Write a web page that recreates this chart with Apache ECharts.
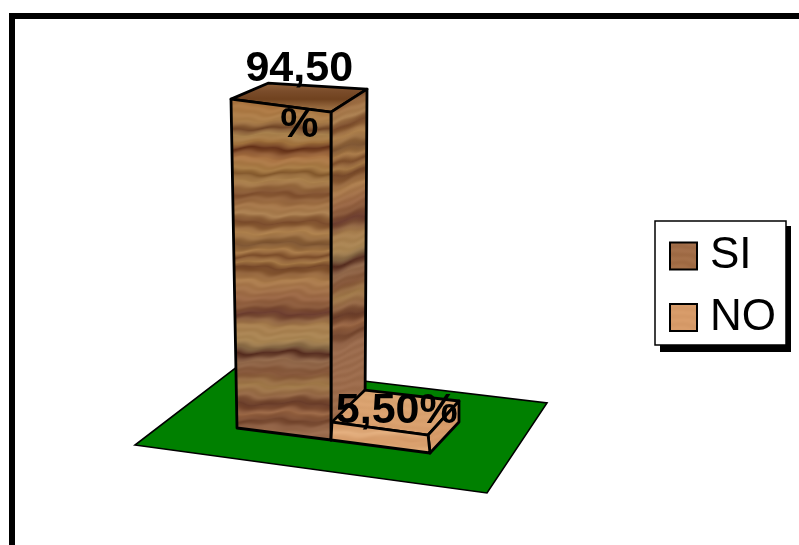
<!DOCTYPE html>
<html>
<head>
<meta charset="utf-8">
<script src="https://cdn.jsdelivr.net/npm/echarts@6/dist/echarts.min.js"></script>
<style>html,body{margin:0;padding:0;background:#fff}#c{width:799px;height:545px}</style>
</head>
<body>
<div id="c"></div>
<script>
const categories = ['SI', 'NO'];
const valuesSI = [94.5];
const valuesNO = [5.5];
const barLabels = ['94,50\n%', '5,50%'];

const woodStopsDark = [[0,'#a06c48'],[99,'#a9713d'],[110,'#ad7a45'],[120,'#ac7f4b'],[128,'#74492a'],[134,'#ab8450'],[142,'#a37440'],[148,'#67341b'],[158,'#ae7848'],[168,'#a67a44'],[173,'#875c30'],[180,'#ae8450'],[193,'#80502f'],[205,'#a47548'],[214,'#aa7f50'],[222,'#774828'],[232,'#b18450'],[243,'#7c5330'],[250,'#a87a48'],[256,'#80512e'],[262,'#a77a48'],[267,'#724425'],[280,'#ad7e4e'],[297,'#9a6745'],[306,'#875739'],[313,'#693a2c'],[325,'#a87f4f'],[340,'#aa8654'],[347,'#846644'],[352,'#562d20'],[360,'#946b4d'],[373,'#835437'],[385,'#a27b4b'],[395,'#946745'],[403,'#653825'],[412,'#9a6745'],[420,'#73452d'],[430,'#9a6b4d'],[545,'#a06c48']];
const woodStopsLight = [[0,'#d69a68'],[300,'#d99f6d'],[308,'#e2ad7c'],[314,'#c98f5e'],[320,'#dba672'],[326,'#cf9563'],[332,'#dca874'],[390,'#d89e6c'],[398,'#e4b284'],[406,'#d79c69'],[414,'#e6b88a'],[424,'#d29663'],[432,'#e2ae7e'],[440,'#d59a68'],[448,'#dfa875'],[545,'#d69a68']];

function hex(c){return [1,3,5].map(i=>parseInt(c.substr(i,2),16));}
function makeWood(stops, amp){
  const w=140,h=545,cv=document.createElement('canvas');cv.width=w;cv.height=h;
  const g=cv.getContext('2d'),img=g.createImageData(w,h),d=img.data;
  const rgb=stops.map(s=>[s[0],hex(s[1])]);
  for(let y=0;y<h;y++)for(let x=0;x<w;x++){
    const yy=Math.max(0,Math.min(h-1,y+amp*(1.6*Math.sin(x*Math.PI*2/140*2+y*.11)+.8*Math.sin(x*Math.PI*2/140*5+y*.23))));
    let k=0;while(k<rgb.length-2&&rgb[k+1][0]<=yy)k++;
    const t=(yy-rgb[k][0])/(rgb[k+1][0]-rgb[k][0]);
    const fine=amp*4*Math.sin(yy*.83+Math.sin(x*Math.PI*2/140*3)*.8);
    for(let c=0;c<3;c++)d[(y*w+x)*4+c]=rgb[k][1][c]+(rgb[k+1][1][c]-rgb[k][1][c])*t+fine;
    d[(y*w+x)*4+3]=255;
  }
  g.putImageData(img,0,0);return cv;
}
const woodDark=makeWood(woodStopsDark,1),woodLight=makeWood(woodStopsLight,.6);
const pat=(img,o)=>Object.assign({image:img,repeat:'repeat'},o||{});
const topDark={type:'linear',x:0,y:0,x2:0,y2:1,colorStops:[{offset:0,color:'#94653c'},{offset:.3,color:'#7a4c2a'},{offset:.55,color:'#70421f'},{offset:.8,color:'#94673c'},{offset:1,color:'#a8784a'}]};
const fills=[{front:pat(woodDark),side:pat(woodDark,{rotation:-0.3}),top:topDark},
             {front:pat(woodLight),side:pat(woodLight,{rotation:-0.3}),top:pat(woodLight,{rotation:.1})}];

// corner layout per bar, relative to the category's zero point on the axis: [dx, dy, lean, rise]
const corners=[
 {fl:[-48.25,-12,-.0183,1.003],fr:[45.75,0,0,1],br:[79.75,-32,.0061,.9726],bl:[-14.25,-44,-.0091,.954]},
 {fl:[-50.75,0,.05,.94],fr:[48.25,13,-.1,.94],br:[77.25,-18,0,1.1],bl:[-16.75,-32,0,.94]}
];
const labelOffset=[[14,-399,'center'],[15,-57,'center']];
const floorOffsets=[[-150.25,5],[201.75,53],[261.75,-37],[-47.25,-74]];
const edge={stroke:'#000',lineWidth:2.8,lineJoin:'round'};

function renderBar(params,api){
  const i=api.value(0),v=api.value(1),b=api.coord([i,0]),t=api.coord([i,v]),h=b[1]-t[1],c=corners[i];
  const low=k=>[b[0]+c[k][0],b[1]+c[k][1]];
  const up=k=>[b[0]+c[k][0]+c[k][2]*h,b[1]+c[k][1]-c[k][3]*h];
  const poly=(pts,fill)=>({type:'polygon',shape:{points:pts},style:Object.assign({fill:fill},edge)});
  return {type:'group',children:[
    poly([up('fl'),up('fr'),up('br'),up('bl')],fills[i].top),
    poly([low('fr'),low('br'),up('br'),up('fr')],fills[i].side),
    poly([low('fl'),low('fr'),up('fr'),up('fl')],fills[i].front),
    {type:'text',z2:100,style:{x:b[0]+labelOffset[i][0],y:b[1]+labelOffset[i][1],text:barLabels[i],fill:'#000',
      font:'bold 43px "Liberation Sans"',lineHeight:56,align:'center',verticalAlign:'top'}}
  ]};
}
function renderFloor(params,api){
  const b=api.coord([0,0]);
  return {type:'polygon',shape:{points:floorOffsets.map(o=>[b[0]+o[0],b[1]+o[1]])},style:{fill:'#008000',stroke:'#000',lineWidth:1.6}};
}

const chart=echarts.init(document.getElementById('c'),null,{renderer:'canvas'});
chart.setOption({
  animation:false,
  grid:{left:237,top:93,width:193,height:347},
  xAxis:{type:'category',data:categories,show:false},
  yAxis:{type:'value',min:0,max:100,show:false},
  legend:{orient:'vertical',left:655,top:221,padding:[7.5,10,0,14],itemGap:6.5,itemWidth:27,itemHeight:27,
    backgroundColor:'#fff',borderColor:'#000',borderWidth:1.5,
    textStyle:{fontFamily:'Liberation Sans',fontSize:44,lineHeight:46,color:'#000',padding:[9,0,0,8]},
    data:[{name:'SI',icon:'rect',itemStyle:{color:fills[0].front,borderColor:'#000',borderWidth:2}},
          {name:'NO',icon:'rect',itemStyle:{color:fills[1].front,borderColor:'#000',borderWidth:2}}]},
  graphic:[{type:'rect',z:-1,shape:{x:12,y:16,width:900,height:900},style:{fill:'none',stroke:'#000',lineWidth:6}},
           {type:'rect',z:3,shape:{x:660,y:226,width:131,height:126},style:{fill:'#000'}}],
  series:[
    {type:'custom',name:'floor',z:1,silent:true,renderItem:renderFloor,data:[[0,0]]},
    {type:'custom',name:'SI',z:2,renderItem:renderBar,encode:{x:0,y:1},data:valuesSI.map(v=>[0,v])},
    {type:'custom',name:'NO',z:3,renderItem:renderBar,encode:{x:0,y:1},data:valuesNO.map(v=>[1,v])}
  ]
});
</script>
</body>
</html>
